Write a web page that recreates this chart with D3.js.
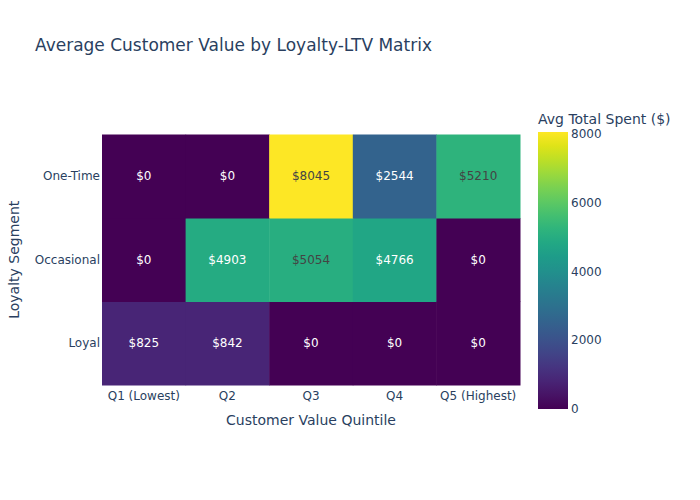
<!DOCTYPE html>
<html>
<head>
<meta charset="utf-8">
<script src="https://cdn.jsdelivr.net/npm/d3@7"></script>
<style>
  html, body { margin: 0; padding: 0; background: #fff; }
  text { font-family: "DejaVu Sans", verdana, arial, sans-serif; }
</style>
</head>
<body>
<svg id="chart" width="700" height="500"></svg>
<script>
const quintiles = ["Q1 (Lowest)", "Q2", "Q3", "Q4", "Q5 (Highest)"];
const segments = ["Loyal", "Occasional", "One-Time"]; // bottom to top
const loyalValues = [825, 842, 0, 0, 0];
const occasionalValues = [0, 4903, 5054, 4766, 0];
const oneTimeValues = [0, 0, 8045, 2544, 5210];
const colorTicks = [0, 2000, 4000, 6000, 8000];

const chartTitle = "Average Customer Value by Loyalty-LTV Matrix";
const xTitle = "Customer Value Quintile";
const yTitle = "Loyalty Segment";
const cbTitle = "Avg Total Spent ($)";

const rows = [loyalValues, occasionalValues, oneTimeValues];
const cells = [];
segments.forEach((s, i) => rows[i].forEach((v, j) => cells.push({seg: s, q: quintiles[j], v})));

const FONT = "\"DejaVu Sans\", verdana, arial, sans-serif";
const svg = d3.select("#chart");
const textColor = "#2a3f5f";

const plot = {left: 102, right: 520, top: 134.5, bottom: 385};

const x = d3.scaleBand().domain(quintiles).range([plot.left, plot.right]).padding(0);
const y = d3.scaleBand().domain(segments).range([plot.bottom, plot.top]).padding(0);

const zmax = d3.max(cells, d => d.v);
const color = d3.scaleSequential(d3.interpolateViridis).domain([0, zmax]);

function isLight(c) {
  const rgb = d3.rgb(c);
  return (rgb.r * 299 + rgb.g * 587 + rgb.b * 114) / 1000 >= 128;
}

// title
svg.append("text")
  .attr("x", 35).attr("y", 51)
  .attr("font-size", 17).attr("fill", textColor)
  .text(chartTitle);

// cells
svg.append("g").selectAll("rect").data(cells).join("rect")
  .attr("x", d => x(d.q))
  .attr("y", d => y(d.seg))
  .attr("width", x.bandwidth() + 0.5)
  .attr("height", y.bandwidth() + 0.5)
  .attr("fill", d => color(d.v));

svg.append("g").selectAll("text").data(cells).join("text")
  .attr("x", d => x(d.q) + x.bandwidth() / 2)
  .attr("y", d => y(d.seg) + y.bandwidth() / 2)
  .attr("dy", "0.35em")
  .attr("text-anchor", "middle")
  .attr("font-size", 12)
  .attr("fill", d => isLight(color(d.v)) ? "#444" : "#fff")
  .text(d => "$" + d.v);

// x axis
const xAxis = d3.axisBottom(x).tickSize(0).tickPadding(6);
const gx = svg.append("g").attr("transform", `translate(0,${plot.bottom})`).call(xAxis);
gx.select(".domain").remove();
gx.selectAll("text").attr("font-size", 12).attr("fill", textColor).attr("font-family", FONT);

// y axis
const yAxis = d3.axisLeft(y).tickSize(0).tickPadding(2);
const gy = svg.append("g").attr("transform", `translate(${plot.left},0)`).call(yAxis);
gy.select(".domain").remove();
gy.selectAll("text").attr("font-size", 12).attr("fill", textColor).attr("font-family", FONT);

// axis titles
svg.append("text")
  .attr("x", (plot.left + plot.right) / 2).attr("y", 425)
  .attr("text-anchor", "middle").attr("font-size", 14).attr("fill", textColor)
  .text(xTitle);
svg.append("text")
  .attr("transform", `translate(19,${(plot.top + plot.bottom) / 2}) rotate(-90)`)
  .attr("text-anchor", "middle").attr("font-size", 14).attr("fill", textColor)
  .text(yTitle);

// colorbar
const cb = {x: 538, w: 30, top: 132, bottom: 409};
const defs = svg.append("defs");
const grad = defs.append("linearGradient").attr("id", "cbgrad")
  .attr("x1", 0).attr("y1", 1).attr("x2", 0).attr("y2", 0);
d3.range(0, 1.0001, 0.05).forEach(t => {
  grad.append("stop").attr("offset", t).attr("stop-color", d3.interpolateViridis(t));
});
svg.append("rect")
  .attr("x", cb.x).attr("y", cb.top).attr("width", cb.w).attr("height", cb.bottom - cb.top)
  .attr("fill", "url(#cbgrad)");

const cbScale = d3.scaleLinear().domain([0, zmax]).range([cb.bottom, cb.top]);
const cbAxis = d3.axisRight(cbScale).tickValues(colorTicks).tickSize(0).tickPadding(3).tickFormat(d3.format("d"));
const gcb = svg.append("g").attr("transform", `translate(${cb.x + cb.w},0)`).call(cbAxis);
gcb.select(".domain").remove();
gcb.selectAll("text").attr("font-size", 12).attr("fill", textColor).attr("font-family", FONT);

svg.append("text")
  .attr("x", 538).attr("y", 124)
  .attr("font-size", 14).attr("fill", textColor)
  .text(cbTitle);
</script>
</body>
</html>
